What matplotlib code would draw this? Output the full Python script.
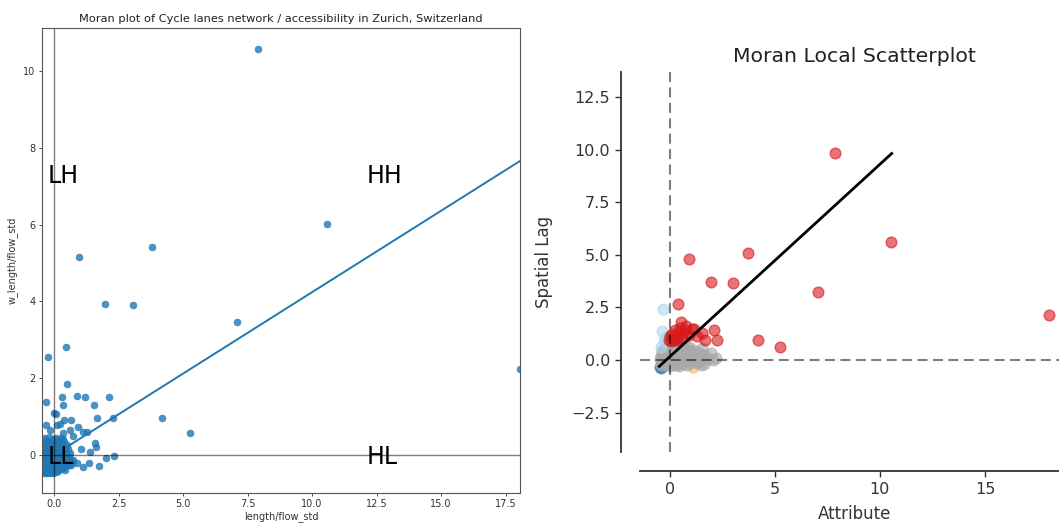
import numpy as np
import matplotlib
matplotlib.use("Agg")
import matplotlib.pyplot as plt

# left panel: standardised length/flow against its spatial lag
left_outliers = [
    (7.90, 10.56), (10.56, 6.02), (3.78, 5.42), (0.96, 5.15), (1.99, 3.93),
    (3.07, 3.91), (7.09, 3.46), (0.45, 2.80), (-0.22, 2.55), (18.06, 2.23),
    (0.51, 1.86), (-0.33, 1.39), (0.30, 1.51), (0.87, 1.54), (1.19, 1.51),
    (2.14, 1.51), (0.34, 1.29), (1.55, 1.31), (1.67, 0.97), (2.30, 0.95),
    (4.20, 0.96), (5.28, 0.57), (0.00, 1.08), (0.09, 1.06), (-0.33, 0.79),
    (0.66, 0.90), (0.39, 0.92), (0.23, 0.81), (0.93, 0.74), (1.27, 0.60),
    (1.11, 0.61), (1.59, 0.31), (1.61, 0.21), (1.06, 0.15), (1.40, 0.07),
    (2.03, -0.07), (2.34, -0.02), (1.35, -0.21), (1.73, -0.28), (0.89, -0.20),
    (1.13, -0.31), (0.75, -0.13), (0.62, 0.05), (-0.16, 0.65), (0.10, 0.78),
    (0.36, 0.56), (0.75, 0.49), (0.62, 0.65),
]

left_cluster = [
    (-0.46, -0.46), (-0.41, -0.43), (-0.37, -0.48), (-0.31, -0.44), (-0.27, -0.47),
    (-0.22, -0.42), (-0.16, -0.46), (-0.11, -0.44), (-0.05, -0.47), (0.02, -0.43),
    (0.08, -0.45), (0.14, -0.41),
    (-0.47, -0.36), (-0.42, -0.33), (-0.36, -0.38), (-0.30, -0.35), (-0.24, -0.31),
    (-0.19, -0.37), (-0.13, -0.34), (-0.07, -0.39), (-0.01, -0.32), (0.05, -0.36),
    (0.11, -0.38), (0.19, -0.33), (0.26, -0.37), (0.34, -0.35), (0.43, -0.39),
    (-0.45, -0.25), (-0.39, -0.22), (-0.33, -0.27), (-0.28, -0.24), (-0.21, -0.20),
    (-0.15, -0.26), (-0.09, -0.23), (-0.03, -0.28), (0.04, -0.21), (0.10, -0.25),
    (0.17, -0.27), (0.23, -0.22), (0.31, -0.26), (0.38, -0.24), (0.47, -0.28),
    (0.56, -0.25), (0.64, -0.27),
    (-0.46, -0.12), (-0.40, -0.09), (-0.34, -0.14), (-0.26, -0.11), (-0.20, -0.15),
    (-0.12, -0.08), (-0.06, -0.13), (0.01, -0.10), (0.07, -0.14), (0.15, -0.09),
    (0.22, -0.12), (0.29, -0.16), (0.37, -0.10), (0.45, -0.13), (0.53, -0.17),
    (0.62, -0.11), (0.71, -0.19),
    (-0.47, 0.01), (-0.41, 0.04), (-0.35, -0.02), (-0.29, 0.03), (-0.23, 0.00),
    (-0.17, 0.05), (-0.10, -0.03), (-0.04, 0.02), (0.03, 0.06), (0.09, -0.01),
    (0.18, 0.03), (0.25, 0.07), (0.33, -0.02), (0.41, 0.04), (0.50, 0.01),
    (0.58, -0.04),
    (-0.45, 0.14), (-0.38, 0.11), (-0.32, 0.16), (-0.25, 0.12), (-0.18, 0.17),
    (-0.11, 0.10), (-0.02, 0.15), (0.06, 0.12), (0.13, 0.18), (0.21, 0.11),
    (0.28, 0.15), (0.36, 0.13), (0.44, 0.19), (0.55, 0.16),
    (-0.43, 0.28), (-0.36, 0.25), (-0.27, 0.30), (-0.19, 0.26), (-0.08, 0.31),
    (0.00, 0.27), (0.12, 0.32), (0.20, 0.24), (0.32, 0.29), (0.39, 0.34),
    (0.49, 0.27),
    (-0.40, 0.43), (-0.30, 0.40), (-0.21, 0.46), (-0.05, 0.41), (0.08, 0.45),
    (0.16, 0.38), (0.27, 0.44), (0.35, 0.41),
]

lag_slope = 0.424  # Moran's I

# right panel: LISA quadrants (significant) and the rest
hh_pts = [
    (7.88, 9.82), (10.54, 5.61), (3.75, 5.07), (0.94, 4.82), (1.98, 3.71),
    (3.02, 3.68), (7.05, 3.25), (18.02, 2.14), (0.42, 2.66), (4.18, 0.97),
    (5.25, 0.60), (2.11, 1.44), (2.27, 0.93), (1.68, 0.96), (1.18, 1.47),
    (1.54, 1.30), (0.52, 1.79), (0.26, 1.44), (0.02, 1.12), (0.74, 1.44),
    (0.91, 1.20), (0.42, 1.30), (0.19, 0.97), (-0.05, 0.97), (1.05, 1.47),
    (1.29, 1.12), (0.58, 1.05), (0.34, 0.97), (0.10, 1.25), (0.30, 1.10),
    (0.48, 1.52), (0.65, 1.28), (0.05, 0.92), (0.80, 1.60),
]
lh_pts = [(-0.32, 2.42), (-0.37, 1.36), (-0.29, 0.89), (-0.40, 0.62), (-0.22, 1.05)]
ll_pts = [(-0.47, -0.33), (-0.40, -0.38)]
hl_pts = [(1.13, -0.33)]
ns_pts = [
    (-0.44, 0.05), (-0.38, 0.32), (-0.35, -0.12), (-0.30, 0.48), (-0.26, 0.15),
    (-0.21, -0.22), (-0.17, 0.36), (-0.12, 0.02), (-0.08, 0.58), (-0.04, -0.15),
    (0.02, 0.27), (0.06, 0.70), (0.10, -0.05), (0.15, 0.45), (0.19, 0.12),
    (0.24, -0.24), (0.28, 0.62), (0.33, 0.30), (0.37, -0.10), (0.42, 0.50),
    (0.47, 0.08), (0.52, 0.72), (0.57, 0.25), (0.63, -0.18), (0.68, 0.55),
    (0.74, 0.18), (0.80, 0.40), (0.86, -0.05), (0.92, 0.63), (0.98, 0.28),
    (1.05, 0.05), (1.12, 0.48), (1.20, 0.20), (1.28, -0.12), (1.36, 0.38),
    (1.45, 0.10), (1.55, 0.55), (1.62, -0.20), (1.70, 0.22), (1.82, 0.05),
    (1.95, 0.35), (2.08, 0.02), (2.22, 0.08), (-0.42, -0.25), (0.00, -0.30),
    (0.45, -0.28), (0.85, -0.25), (1.50, -0.25),
    (-0.40, 0.18), (-0.33, 0.05), (-0.28, -0.08), (-0.22, 0.25), (-0.15, 0.10),
    (-0.10, -0.10), (-0.05, 0.40), (0.00, 0.12), (0.05, -0.18), (0.08, 0.30),
    (0.12, 0.55), (0.18, -0.12), (0.22, 0.35), (0.26, 0.05), (0.30, 0.48),
    (0.35, 0.15), (0.40, -0.20), (0.44, 0.32), (0.50, 0.00), (0.55, 0.45),
    (0.60, 0.10), (0.66, 0.35), (0.70, -0.08), (0.77, 0.28), (0.83, 0.10),
    (0.90, 0.45), (0.95, -0.12), (1.02, 0.30), (1.08, 0.15), (1.16, 0.35),
    (1.24, 0.05), (1.32, 0.22), (1.40, -0.05), (1.50, 0.28), (1.60, 0.05),
    (-0.36, 0.42), (-0.18, 0.52), (0.16, 0.68), (0.38, 0.65), (0.72, 0.68),
]
fit_slope, fit_intercept = 0.915, 0.15
fit_x = [-0.49, 10.56]

fig = plt.figure(figsize=(10.59, 5.24), dpi=100)

# ---- left: Moran plot ----
ax1 = fig.add_axes([0.0394, 0.0592, 0.4517, 0.8874])
pts = np.array(left_cluster + left_outliers)
ax1.scatter(pts[:, 0], pts[:, 1], s=24, color="#1f77b4", alpha=0.8, linewidths=0.5)
xs = np.array([-0.48, 18.06])
ax1.plot(xs, lag_slope * xs, color="#1f77b4", lw=1.4)
ax1.axvline(0, color="k", alpha=0.5, lw=1.0)
ax1.axhline(0, color="k", alpha=0.5, lw=1.0)
ax1.set_xlim(-0.48, 18.06)
ax1.set_ylim(-0.99, 11.12)
ax1.set_xticks([0, 2.5, 5, 7.5, 10, 12.5, 15, 17.5])
ax1.set_xticklabels(["0.0", "2.5", "5.0", "7.5", "10.0", "12.5", "15.0", "17.5"])
ax1.set_yticks([0, 2, 4, 6, 8, 10])
ax1.tick_params(labelsize=7, length=2.5, width=0.6, pad=2, colors="#333333")
for sp in ax1.spines.values():
    sp.set_color("#555555")
    sp.set_linewidth(0.8)
ax1.set_title("Moran plot of Cycle lanes network / accessibility in Zurich, Switzerland",
              fontsize=8.2, pad=4, color="#222222")
ax1.set_xlabel("length/flow_std", fontsize=7, labelpad=1, color="#333333")
ax1.set_ylabel("w_length/flow_std", fontsize=7, labelpad=4, color="#333333")
for lbl, x, y in [("LH", -0.27, 7.27), ("HH", 12.13, 7.27), ("LL", -0.27, -0.05), ("HL", 12.13, -0.05)]:
    ax1.text(x, y, lbl, fontsize=17, ha="left", va="center")

# ---- right: Moran local scatterplot ----
ax2 = fig.add_axes([0.6043, 0.1374, 0.4051, 0.7258])
groups = [
    (ll_pts, "#2c7bb6"),
    (hl_pts, "#fdae61"),
    (ns_pts, "darkgrey"),
    (lh_pts, "#abd9e9"),
    (hh_pts, "#d7191c"),
]
for g, c in groups:
    a = np.array(g)
    ax2.scatter(a[:, 0], a[:, 1], s=60, color=c, alpha=0.6)
fx = np.array(fit_x)
ax2.plot(fx, fit_slope * fx + fit_intercept, color="k", lw=2)
ax2.axvline(0, color="k", alpha=0.5, ls="--", lw=1.5, dashes=(4.8, 2.6))
ax2.axhline(0, color="k", alpha=0.5, ls="--", lw=1.5, dashes=(4.8, 2.6))
ax2.set_xlim(-1.41, 18.99)
ax2.set_ylim(-4.37, 13.7)
ax2.set_xticks([0, 5, 10, 15])
ax2.set_yticks([-2.5, 0, 2.5, 5, 7.5, 10, 12.5])
ax2.spines["top"].set_visible(False)
ax2.spines["right"].set_visible(False)
for side in ["left", "bottom"]:
    ax2.spines[side].set_position(("outward", 14))
    ax2.spines[side].set_color("#333333")
    ax2.spines[side].set_linewidth(1.3)
ax2.tick_params(labelsize=11.5, length=4, width=1, colors="#333333")
ax2.set_title("Moran Local Scatterplot", fontsize=14.7, pad=7, color="#222222")
ax2.set_xlabel("Attribute", fontsize=12, labelpad=6, color="#333333")
ax2.set_ylabel("Spatial Lag", fontsize=12, labelpad=13, color="#333333")

fig.savefig("out.png", dpi=100)
